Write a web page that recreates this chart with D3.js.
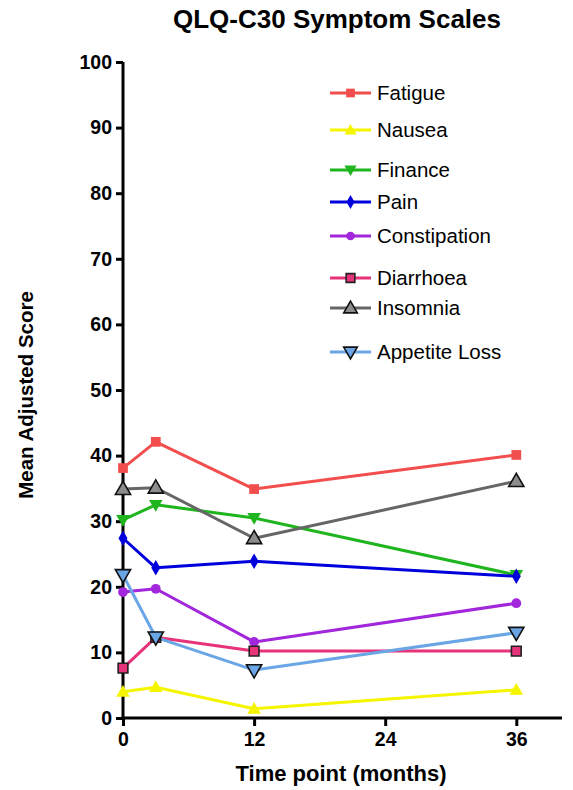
<!DOCTYPE html>
<html>
<head>
<meta charset="utf-8">
<script src="https://cdn.jsdelivr.net/npm/d3@7"></script>
<style>
  html, body { margin: 0; padding: 0; background: #fff; }
  svg { display: block; font-family: "Liberation Sans", Arial, Helvetica, sans-serif; }
</style>
</head>
<body>
<svg id="chart" width="573" height="790"></svg>
<script>
// Time points (months) at which the symptom scales were assessed
const months = [0, 3, 12, 36];

// Mean adjusted scores per symptom scale
const fatigue      = [38.1, 42.1, 34.9, 40.1];
const nausea       = [4.0, 4.7, 1.4, 4.3];
const finance      = [30.2, 32.5, 30.5, 21.8];
const pain         = [27.4, 22.9, 23.9, 21.6];
const constipation = [19.2, 19.7, 11.6, 17.5];
const diarrhoea    = [7.6, 12.3, 10.2, 10.2];
const insomnia     = [34.9, 35.1, 27.4, 36.1];
const appetiteLoss = [21.8, 12.3, 7.3, 13.0];

const seriesNames = ["Fatigue", "Nausea", "Finance", "Pain", "Constipation",
                     "Diarrhoea", "Insomnia", "Appetite Loss"];
const seriesValues = [fatigue, nausea, finance, pain, constipation,
                      diarrhoea, insomnia, appetiteLoss];

// Axis ticks
const xTicks = [0, 12, 24, 36];
const yTicks = [0, 10, 20, 30, 40, 50, 60, 70, 80, 90, 100];

// Styling per series
const styles = [
  { color: "#f24e4e", fill: "#f24e4e", stroke: "none", shape: "square",  size: 95 },
  { color: "#f5f500", fill: "#f5f500", stroke: "none", shape: "triUp",   size: 80 },
  { color: "#1fb51f", fill: "#1fb51f", stroke: "none", shape: "triDown", size: 80 },
  { color: "#0000dc", fill: "#0000dc", stroke: "none", shape: "diamond", size: 70 },
  { color: "#a226dc", fill: "#a226dc", stroke: "none", shape: "circle",  size: 75 },
  { color: "#e6337a", fill: "#e6337a", stroke: "#222", shape: "square",  size: 95 },
  { color: "#666666", fill: "#8c8c8c", stroke: "#111", shape: "triUp",   size: 100 },
  { color: "#6aa6e6", fill: "#6aa6e6", stroke: "#111", shape: "triDown", size: 100 }
];

// Legend row positions
const legendRows = [93, 130, 170, 202, 236, 278, 308, 352];

const svg = d3.select("#chart");

const x = d3.scaleLinear().domain([0, 40]).range([123, 560]);
const y = d3.scaleLinear().domain([0, 100]).range([718, 62]);

function symbolPath(shape, size) {
  const type = {
    square: d3.symbolSquare,
    triUp: d3.symbolTriangle,
    triDown: d3.symbolTriangle,
    diamond: d3.symbolDiamond,
    circle: d3.symbolCircle
  }[shape];
  return d3.symbol().type(type).size(size)();
}
function symbolTransform(shape, cx, cy) {
  if (shape === "triUp") return `translate(${cx},${cy + 1})`;
  if (shape === "triDown") return `translate(${cx},${cy - 1}) rotate(180)`;
  return `translate(${cx},${cy})`;
}

// Title
svg.append("text")
  .attr("x", 337).attr("y", 28)
  .attr("text-anchor", "middle")
  .attr("font-size", 26).attr("font-weight", "bold")
  .text("QLQ-C30 Symptom Scales");

// Axes
const yAxis = d3.axisLeft(y).tickValues(yTicks).tickSize(7).tickPadding(4).tickFormat(d3.format("d"));
const xAxis = d3.axisBottom(x).tickValues(xTicks).tickSize(8).tickPadding(6).tickFormat(d3.format("d"));

const gy = svg.append("g").attr("transform", `translate(${x(0)},0)`).call(yAxis);
const gx = svg.append("g").attr("transform", `translate(0,${y(0)})`).call(xAxis);

[gx, gy].forEach(g => {
  g.select(".domain").attr("stroke", "#000").attr("stroke-width", 3);
  g.selectAll(".tick line").attr("stroke", "#000").attr("stroke-width", 3);
  g.selectAll(".tick text")
    .attr("fill", "#000")
    .attr("font-size", 19.5)
    .attr("font-weight", "bold")
    .attr("font-family", "'Liberation Sans', Arial, sans-serif");
});
// Keep axis lines square-ended with no outer caps
gy.select(".domain").attr("d", `M0,${y(100)}V${y(0) + 1.5}`);
gx.select(".domain").attr("d", `M${x(0) - 1.5},0H${x(40) + 2}`);

// Axis titles
svg.append("text")
  .attr("x", 341).attr("y", 781)
  .attr("text-anchor", "middle")
  .attr("font-size", 22).attr("font-weight", "bold")
  .text("Time point (months)");

svg.append("text")
  .attr("transform", "translate(33,395) rotate(-90)")
  .attr("text-anchor", "middle")
  .attr("font-size", 20.5).attr("font-weight", "bold")
  .text("Mean Adjusted Score");

// Lines
const line = d3.line().x(d => x(d[0])).y(d => y(d[1]));
const plot = svg.append("g");

seriesValues.forEach((vals, i) => {
  const pts = months.map((m, j) => [m, vals[j]]);
  plot.append("path")
    .datum(pts)
    .attr("d", line)
    .attr("fill", "none")
    .attr("stroke", styles[i].color)
    .attr("stroke-width", 3)
    .attr("stroke-linejoin", "round");
});

// Markers on top of all lines
seriesValues.forEach((vals, i) => {
  const s = styles[i];
  plot.selectAll(null)
    .data(months.map((m, j) => [m, vals[j]]))
    .join("path")
    .attr("d", symbolPath(s.shape, s.size))
    .attr("transform", d => symbolTransform(s.shape, x(d[0]), y(d[1])))
    .attr("fill", s.fill)
    .attr("stroke", s.stroke)
    .attr("stroke-width", s.stroke === "none" ? 0 : 1.6);
});

// Legend
const legend = svg.append("g");
seriesNames.forEach((name, i) => {
  const s = styles[i];
  const ry = legendRows[i];
  const g = legend.append("g");
  g.append("line")
    .attr("x1", 330).attr("x2", 371)
    .attr("y1", ry).attr("y2", ry)
    .attr("stroke", s.color).attr("stroke-width", 3);
  g.append("path")
    .attr("d", symbolPath(s.shape, s.size * 0.8))
    .attr("transform", symbolTransform(s.shape, 350.5, ry))
    .attr("fill", s.fill)
    .attr("stroke", s.stroke)
    .attr("stroke-width", s.stroke === "none" ? 0 : 1.6);
  g.append("text")
    .attr("x", 377).attr("y", ry)
    .attr("dy", "0.35em")
    .attr("font-size", 20.5)
    .text(name);
});
</script>
</body>
</html>
